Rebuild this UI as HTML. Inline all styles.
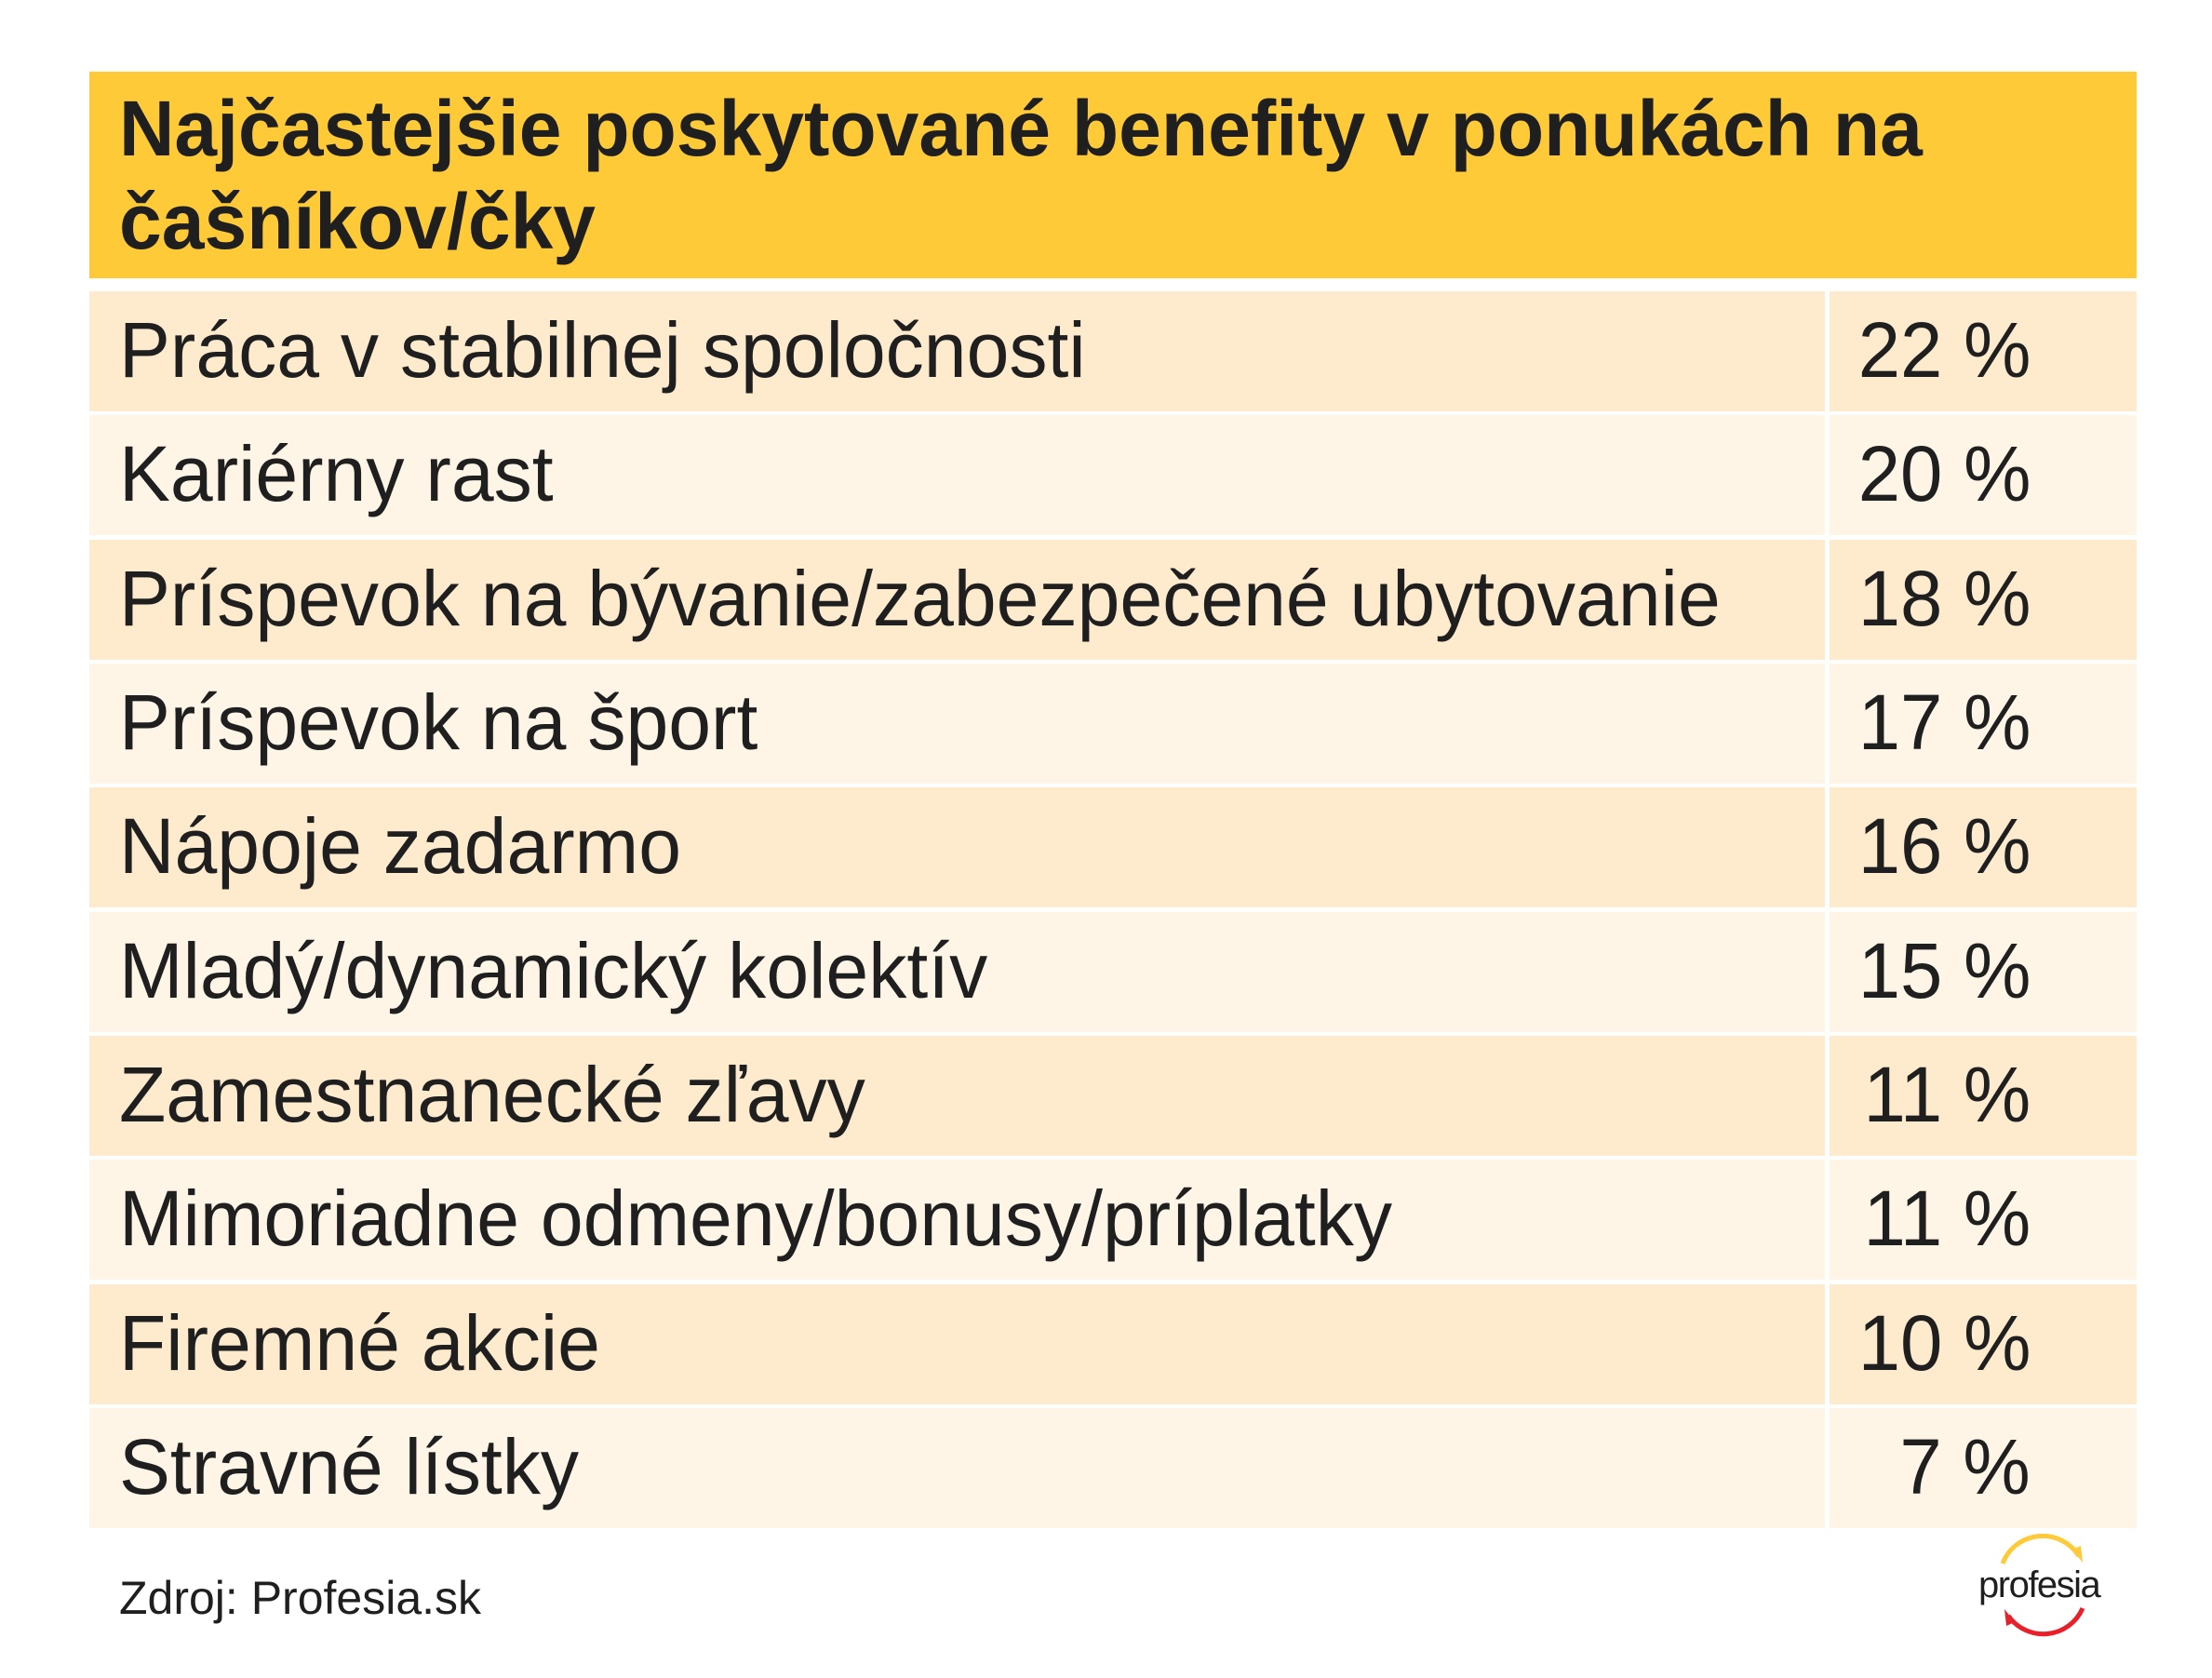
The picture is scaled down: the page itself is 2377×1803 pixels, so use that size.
<!DOCTYPE html>
<html><head><meta charset="utf-8"><style>
body{margin:0;width:2377px;height:1803px;background:#fff;position:relative;overflow:hidden;font-family:"Liberation Sans",Arial,sans-serif;color:#1f1f1f}
.h{position:absolute;left:96px;top:77px;width:2200px;height:222px;background:#FECA38}
.t{position:absolute;left:128px;font-weight:bold;font-size:84px;line-height:1;white-space:nowrap;transform:scaleX(0.979);transform-origin:0 0}
.r{position:absolute;left:96px;width:2200px;height:129px}
.r .a{position:absolute;left:0;top:0;width:1865px;height:100%}
.r .b{position:absolute;left:1870px;top:0;width:330px;height:100%}
.d .a,.d .b{background:#FEEACC}.l .a,.l .b{background:#FEF5E7}
.r span{position:absolute;font-size:84px;line-height:1;white-space:nowrap;top:21px}
.r .n{left:32px;transform:scaleX(0.98);transform-origin:0 0}
.r .p{right:114px;transform:scaleX(0.97);transform-origin:100% 0}
</style></head><body>
<div class="h"></div>
<div class="t" style="top:96px">Najčastejšie poskytované benefity v ponukách na</div>
<div class="t" style="top:196px">čašníkov/čky</div>

<div class="r d" style="top:313px"><div class="a"></div><div class="b"></div><span class="n">Práca v stabilnej spoločnosti</span><span class="p">22 %</span></div>
<div class="r l" style="top:446px"><div class="a"></div><div class="b"></div><span class="n">Kariérny rast</span><span class="p">20 %</span></div>
<div class="r d" style="top:580px"><div class="a"></div><div class="b"></div><span class="n">Príspevok na bývanie/zabezpečené ubytovanie</span><span class="p">18 %</span></div>
<div class="r l" style="top:713px"><div class="a"></div><div class="b"></div><span class="n">Príspevok na šport</span><span class="p">17 %</span></div>
<div class="r d" style="top:846px"><div class="a"></div><div class="b"></div><span class="n">Nápoje zadarmo</span><span class="p">16 %</span></div>
<div class="r l" style="top:980px"><div class="a"></div><div class="b"></div><span class="n">Mladý/dynamický kolektív</span><span class="p">15 %</span></div>
<div class="r d" style="top:1113px"><div class="a"></div><div class="b"></div><span class="n">Zamestnanecké zľavy</span><span class="p">11 %</span></div>
<div class="r l" style="top:1246px"><div class="a"></div><div class="b"></div><span class="n">Mimoriadne odmeny/bonusy/príplatky</span><span class="p">11 %</span></div>
<div class="r d" style="top:1380px"><div class="a"></div><div class="b"></div><span class="n">Firemné akcie</span><span class="p">10 %</span></div>
<div class="r l" style="top:1513px"><div class="a"></div><div class="b"></div><span class="n">Stravné lístky</span><span class="p">7 %</span></div>

<div style="position:absolute;left:128px;top:1692px;font-size:50px;line-height:1">Zdroj: Profesia.sk</div>

<svg style="position:absolute;left:2118px;top:1648px" width="160" height="115" viewBox="0 0 160 115">
<path d="M34 32 A46 46 0 0 1 116 24" fill="none" stroke="#FECA38" stroke-width="5"/>
<path d="M109 17 L120 31 L118 13 Z" fill="#FECA38"/>
<path d="M120 80 A46 46 0 0 1 40 88" fill="none" stroke="#E8202A" stroke-width="5"/>
<path d="M47 95 L36 81 L38 99 Z" fill="#E8202A"/>
<text x="8" y="68" font-family="Liberation Sans, Arial, sans-serif" font-size="40" fill="#1f1f1f" letter-spacing="-1.5">profesia</text>
</svg>
</body></html>
